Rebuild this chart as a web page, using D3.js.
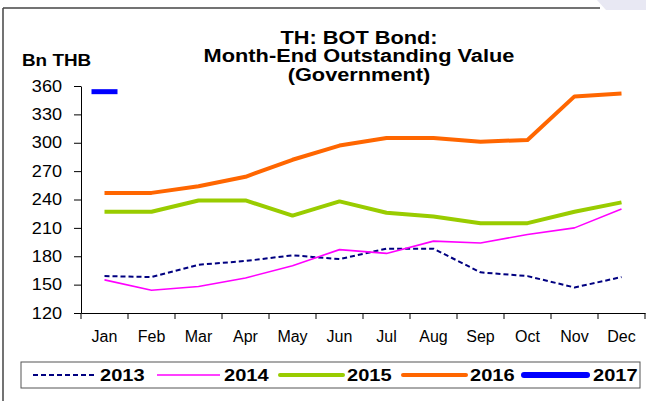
<!DOCTYPE html>
<html>
<head>
<meta charset="utf-8">
<script src="https://cdn.jsdelivr.net/npm/d3@7"></script>
<style>
  body { margin: 0; background: #fff; }
  svg { font-family: "Liberation Sans", Arial, sans-serif; }
  .axis path, .axis line { stroke: #000; }
  .axis text { fill: #000; }
</style>
</head>
<body>
<div id="chart"></div>
<script>
const width = 646;
const height = 401;
const margin = { top: 86, right: 1, bottom: 88, left: 81 };

// data (Bn THB, month-end)
const months = ["Jan", "Feb", "Mar", "Apr", "May", "Jun", "Jul", "Aug", "Sep", "Oct", "Nov", "Dec"];
const years = ["2013", "2014", "2015", "2016", "2017"];
const v2013 = [159, 158, 171, 175, 181, 177, 188, 188, 163, 159, 147, 158];
const v2014 = [155, 144, 148, 157, 170, 187, 183, 196, 194, 203, 210, 230];
const v2015 = [227, 227, 239, 239, 223, 238, 226, 222, 215, 215, 227, 237];
const v2016 = [247, 247, 254, 264, 282, 297, 305, 305, 301, 303, 349, 352];
const v2017 = [354];
const yTicks = [120, 150, 180, 210, 240, 270, 300, 330, 360];

const series = [
  { name: "2013", values: v2013, color: "#000080", width: 2, dash: "5,3" },
  { name: "2014", values: v2014, color: "#ff00ff", width: 1.6, dash: null },
  { name: "2015", values: v2015, color: "#99cc00", width: 4, dash: null },
  { name: "2016", values: v2016, color: "#ff6600", width: 4, dash: null },
  { name: "2017", values: v2017, color: "#0000ff", width: 5, dash: null }
];

const svg = d3.select("#chart")
  .append("svg")
  .attr("width", width)
  .attr("height", height);

// outer frame bits
svg.append("line")
  .attr("x1", 3).attr("x2", 3).attr("y1", 8).attr("y2", height)
  .attr("stroke", "#444").attr("stroke-width", 1.5);
svg.append("line")
  .attr("x1", 3).attr("x2", 600).attr("y1", 8).attr("y2", 8)
  .attr("stroke", "#444").attr("stroke-width", 1.5);
svg.append("polygon")
  .attr("points", "597,0 646,0 646,10 606,10")
  .attr("fill", "#e8e8f3");

// Scales
const x = d3.scaleBand()
  .domain(months)
  .range([margin.left, width - margin.right]);

const y = d3.scaleLinear()
  .domain([120, 360])
  .range([height - margin.bottom, margin.top]);

// Title (the source text is a bit wide, hence the scaleX)
const title = svg.append("text")
  .attr("text-anchor", "middle")
  .attr("font-weight", "bold")
  .attr("font-size", 18)
  .attr("transform", "translate(359,0) scale(1.21,1)");
["TH: BOT Bond:", "Month-End Outstanding Value", "(Government)"].forEach((t, i) => {
  title.append("tspan").attr("x", 0).attr("y", 44 + i * 18.5).text(t);
});

svg.append("text")
  .attr("transform", "translate(22,66) scale(1.18,1)")
  .attr("font-weight", "bold")
  .attr("font-size", 16)
  .text("Bn THB");

// Axes
const yAxis = svg.append("g")
  .attr("class", "axis")
  .attr("transform", `translate(${margin.left}, 0)`)
  .call(d3.axisLeft(y).tickValues(yTicks).tickSize(7).tickPadding(5).tickSizeOuter(0));
yAxis.selectAll("text")
  .attr("x", null)
  .attr("font-size", 16)
  .attr("font-family", "Liberation Sans, Arial, sans-serif")
  .attr("transform", "translate(-19,0) scale(1.13,1)");

const xAxis = svg.append("g")
  .attr("class", "axis")
  .attr("transform", `translate(0, ${height - margin.bottom})`)
  .call(d3.axisBottom(x).tickSize(0).tickPadding(18).tickSizeOuter(0));
xAxis.selectAll("text")
  .attr("font-size", 16)
  .attr("font-family", "Liberation Sans, Arial, sans-serif");

// ticks between the months
xAxis.selectAll(".bound")
  .data(d3.range(months.length + 1))
  .join("line")
  .attr("class", "bound")
  .attr("x1", i => margin.left + i * x.step())
  .attr("x2", i => margin.left + i * x.step())
  .attr("y1", 0).attr("y2", 6)
  .attr("stroke", "#000");

// Lines
const line = d3.line()
  .x((d, i) => x(months[i]) + x.bandwidth() / 2)
  .y(d => y(d));

series.filter(s => s.values.length > 1).forEach(s => {
  svg.append("path")
    .datum(s.values)
    .attr("fill", "none")
    .attr("stroke", s.color)
    .attr("stroke-width", s.width)
    .attr("stroke-dasharray", s.dash)
    .attr("stroke-linejoin", "round")
    .attr("d", line);
});

// 2017 has only January: drawn as a short dash
const s17 = series[4];
svg.append("line")
  .attr("x1", x("Jan") + x.bandwidth() / 2 - 13)
  .attr("x2", x("Jan") + x.bandwidth() / 2 + 13)
  .attr("y1", y(v2017[0])).attr("y2", y(v2017[0]))
  .attr("stroke", s17.color)
  .attr("stroke-width", s17.width);

// Legend
const legend = svg.append("g");
legend.append("rect")
  .attr("x", 21).attr("y", 362)
  .attr("width", 619).attr("height", 26)
  .attr("fill", "#fff")
  .attr("stroke", "#555");

const legendX = [33, 157, 280, 403, 524];
series.forEach((s, i) => {
  const g = legend.append("g").attr("transform", `translate(${legendX[i]}, 375)`);
  g.append("line")
    .attr("x1", 0).attr("x2", 63)
    .attr("stroke", s.color)
    .attr("stroke-width", i === 4 ? 6 : s.width)
    .attr("stroke-linecap", i >= 2 ? "round" : "butt")
    .attr("stroke-dasharray", s.dash);
  g.append("text")
    .attr("transform", `translate(${i === 4 ? 69 : 67},6) scale(1.18,1)`)
    .attr("font-weight", "bold")
    .attr("font-size", 17)
    .text(s.name);
});
</script>
</body>
</html>
